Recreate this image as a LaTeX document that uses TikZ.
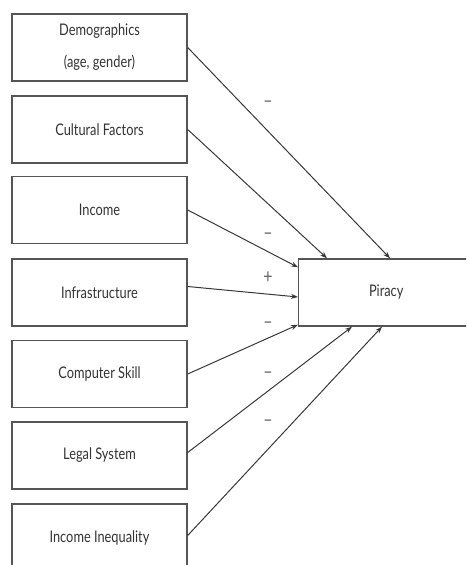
\documentclass[tikz,border=0pt]{standalone}
\usepackage{fontspec}
\setmainfont[FakeStretch=0.8]{Lato}
\usetikzlibrary{arrows.meta,calc}
\definecolor{boxline}{HTML}{555555}
\definecolor{txt}{HTML}{333333}
\definecolor{arr}{HTML}{383838}
\begin{document}
\begin{tikzpicture}[x=1pt,y=-1pt,
  factor/.style={draw=boxline,line width=1.4pt,minimum width=175pt,minimum height=67pt,
    inner sep=0pt,text=txt,font=\fontsize{16}{32}\selectfont,align=center},
  conn/.style={draw=arr,line width=1pt,-{Stealth[length=7pt,width=5pt]}},
  sign/.style={text=gray!80!black,font=\fontsize{20}{20}\selectfont,inner sep=0pt}]
\useasboundingbox (0,0) rectangle (466,565);
\begin{scope}
\clip (0,0) rectangle (466,565);
\node[factor] (demo) at (99.5,47.5) {Demographics\\(age, gender)};
\node[factor] (cult) at (99.5,129.5) {Cultural Factors};
\node[factor] (inc) at (99.5,210) {Income};
\node[factor] (infra) at (99.5,292.5) {Infrastructure};
\node[factor] (comp) at (99.5,374) {Computer Skill};
\node[factor] (legal) at (99.5,455.5) {Legal System};
\node[factor] (ineq) at (99.5,537.5) {Income Inequality};
\node[factor,minimum width=180pt,anchor=west] (pir) at (298,292.5) {\hspace*{-5pt}Piracy};
\end{scope}
\coordinate (tdemo) at ($(pir.north west)+(92,0)$);
\coordinate (tcult) at ($(pir.north west)+(29,0)$);
\coordinate (tinc) at ($(pir.north west)+(0,9)$);
\coordinate (tinfra) at ($(pir.west)+(0,4.5)$);
\coordinate (tcomp) at ($(pir.south west)+(0,-2)$);
\coordinate (tlegal) at ($(pir.south west)+(54,0)$);
\coordinate (tineq) at ($(pir.south west)+(84,0)$);
\draw[conn] (demo.east) -- (tdemo);
\draw[conn] (cult.east) -- (tcult);
\draw[conn] (inc.east) -- (tinc);
\draw[conn] ($(infra.east)+(0,-6)$) -- (tinfra);
\draw[conn] (comp.east) -- (tcomp);
\draw[conn] ($(legal.east)+(0,-3)$) -- (tlegal);
\draw[conn] ($(ineq.east)+(0,-2)$) -- (tineq);
\node[sign] (s1) at (268,104) {--};
\node[sign] (s2) at (268,236) {--};
\node[sign] (s3) at (268,278) {+};
\node[sign] (s4) at (268,325) {--};
\node[sign] (s5) at (268,375) {--};
\node[sign] (s6) at (268,423) {--};
\end{tikzpicture}
\end{document}
